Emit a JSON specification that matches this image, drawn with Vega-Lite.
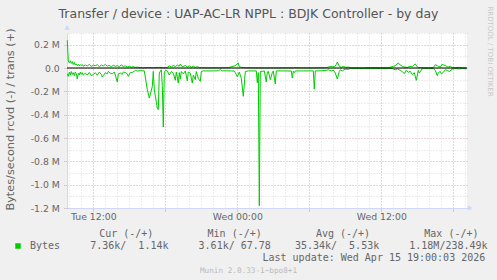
{
  "$schema": "https://vega.github.io/schema/vega-lite/v6.json",
  "width": 400,
  "height": 175,
  "autosize": {"type": "none"},
  "padding": {"left": 67, "top": 33, "right": 30, "bottom": 72},
  "background": "#F0F0F0",
  "config": {"view": {"stroke": null, "fill": "#FFFFFF"}, "font": "DejaVu Sans"},
  "title": {"text": "Transfer / device : UAP-AC-LR NPPL : BDJK Controller - by day", "font": "DejaVu Sans", "fontSize": 12.5, "fontWeight": "normal", "color": "#555555", "anchor": "middle", "frame": "group", "dx": -18.5, "baseline": "alphabetic", "offset": -25},
  "datasets": {
    "trans": [
      {"t": "2026-04-14T09:50", "v": 238490}, {"t": "2026-04-14T09:55", "v": 60000}, {"t": "2026-04-14T10:00", "v": 45000}, {"t": "2026-04-14T10:05", "v": 62000},
      {"t": "2026-04-14T10:10", "v": 40000}, {"t": "2026-04-14T10:15", "v": 55000}, {"t": "2026-04-14T10:20", "v": 30000}, {"t": "2026-04-14T10:25", "v": 48000},
      {"t": "2026-04-14T10:30", "v": 25000}, {"t": "2026-04-14T10:35", "v": 35000}, {"t": "2026-04-14T10:40", "v": 20000}, {"t": "2026-04-14T10:45", "v": 32000},
      {"t": "2026-04-14T10:50", "v": 18000}, {"t": "2026-04-14T10:55", "v": 28000}, {"t": "2026-04-14T11:00", "v": 22000}, {"t": "2026-04-14T11:05", "v": 30000},
      {"t": "2026-04-14T11:10", "v": 15000}, {"t": "2026-04-14T11:20", "v": 26000}, {"t": "2026-04-14T11:30", "v": 18000}, {"t": "2026-04-14T11:40", "v": 30000},
      {"t": "2026-04-14T11:50", "v": 14000}, {"t": "2026-04-14T12:00", "v": 24000}, {"t": "2026-04-14T12:10", "v": 20000}, {"t": "2026-04-14T12:20", "v": 28000},
      {"t": "2026-04-14T12:30", "v": 12000}, {"t": "2026-04-14T12:40", "v": 25000}, {"t": "2026-04-14T12:50", "v": 18000}, {"t": "2026-04-14T13:00", "v": 30000},
      {"t": "2026-04-14T13:10", "v": 16000}, {"t": "2026-04-14T13:20", "v": 22000}, {"t": "2026-04-14T13:30", "v": 10000}, {"t": "2026-04-14T13:40", "v": 24000},
      {"t": "2026-04-14T13:50", "v": 15000}, {"t": "2026-04-14T14:00", "v": 20000}, {"t": "2026-04-14T14:10", "v": 12000}, {"t": "2026-04-14T14:20", "v": 26000},
      {"t": "2026-04-14T14:30", "v": 14000}, {"t": "2026-04-14T14:40", "v": 18000}, {"t": "2026-04-14T14:50", "v": 8000}, {"t": "2026-04-14T15:00", "v": 15000},
      {"t": "2026-04-14T15:10", "v": 6000}, {"t": "2026-04-14T15:20", "v": 12000}, {"t": "2026-04-14T15:30", "v": 5000}, {"t": "2026-04-14T15:40", "v": 8000},
      {"t": "2026-04-14T15:50", "v": 3000}, {"t": "2026-04-14T16:10", "v": 2000}, {"t": "2026-04-14T16:35", "v": 5000}, {"t": "2026-04-14T17:00", "v": 3000},
      {"t": "2026-04-14T17:25", "v": 6000}, {"t": "2026-04-14T17:50", "v": 2000}, {"t": "2026-04-14T18:05", "v": 4000}, {"t": "2026-04-14T18:10", "v": 5000},
      {"t": "2026-04-14T18:20", "v": 18000}, {"t": "2026-04-14T18:30", "v": 8000}, {"t": "2026-04-14T18:40", "v": 22000}, {"t": "2026-04-14T18:50", "v": 12000},
      {"t": "2026-04-14T19:00", "v": 25000}, {"t": "2026-04-14T19:10", "v": 15000}, {"t": "2026-04-14T19:15", "v": 34000}, {"t": "2026-04-14T19:25", "v": 10000},
      {"t": "2026-04-14T19:40", "v": 22000}, {"t": "2026-04-14T19:50", "v": 8000}, {"t": "2026-04-14T20:00", "v": 18000}, {"t": "2026-04-14T20:10", "v": 6000},
      {"t": "2026-04-14T20:20", "v": 15000}, {"t": "2026-04-14T20:30", "v": 5000}, {"t": "2026-04-14T20:40", "v": 12000}, {"t": "2026-04-14T20:50", "v": 3000},
      {"t": "2026-04-14T21:00", "v": 2000}, {"t": "2026-04-14T21:35", "v": 2000}, {"t": "2026-04-14T22:25", "v": 2000}, {"t": "2026-04-14T23:15", "v": 3000},
      {"t": "2026-04-14T23:50", "v": 20000}, {"t": "2026-04-15T00:05", "v": 43000}, {"t": "2026-04-15T00:10", "v": 10000}, {"t": "2026-04-15T00:30", "v": 3000},
      {"t": "2026-04-15T01:20", "v": 2000}, {"t": "2026-04-15T02:10", "v": 1000}, {"t": "2026-04-15T03:00", "v": 1000}, {"t": "2026-04-15T04:40", "v": 2000},
      {"t": "2026-04-15T06:20", "v": 1000}, {"t": "2026-04-15T07:25", "v": 3000}, {"t": "2026-04-15T07:40", "v": 10000}, {"t": "2026-04-15T07:55", "v": 14000},
      {"t": "2026-04-15T08:05", "v": 8000}, {"t": "2026-04-15T08:15", "v": 30000}, {"t": "2026-04-15T08:20", "v": 51000}, {"t": "2026-04-15T08:30", "v": 15000},
      {"t": "2026-04-15T08:40", "v": 5000}, {"t": "2026-04-15T08:50", "v": 14000}, {"t": "2026-04-15T09:00", "v": 6000}, {"t": "2026-04-15T09:15", "v": 8000},
      {"t": "2026-04-15T09:30", "v": 2000}, {"t": "2026-04-15T10:30", "v": 1000}, {"t": "2026-04-15T11:05", "v": 4000}, {"t": "2026-04-15T11:55", "v": 3000},
      {"t": "2026-04-15T12:35", "v": 2000}, {"t": "2026-04-15T13:00", "v": 14000}, {"t": "2026-04-15T13:10", "v": 20000}, {"t": "2026-04-15T13:25", "v": 43000},
      {"t": "2026-04-15T13:35", "v": 25000}, {"t": "2026-04-15T13:45", "v": 14000}, {"t": "2026-04-15T13:55", "v": 8000}, {"t": "2026-04-15T14:10", "v": 5000},
      {"t": "2026-04-15T14:20", "v": 12000}, {"t": "2026-04-15T14:35", "v": 14000}, {"t": "2026-04-15T14:40", "v": 20000}, {"t": "2026-04-15T14:50", "v": 34000},
      {"t": "2026-04-15T15:00", "v": 10000}, {"t": "2026-04-15T15:05", "v": 3000}, {"t": "2026-04-15T15:15", "v": 3000}, {"t": "2026-04-15T15:30", "v": 2000},
      {"t": "2026-04-15T15:55", "v": 1000}, {"t": "2026-04-15T16:20", "v": 3000}, {"t": "2026-04-15T16:30", "v": 28000}, {"t": "2026-04-15T16:40", "v": 20000},
      {"t": "2026-04-15T16:45", "v": 14000}, {"t": "2026-04-15T16:55", "v": 8000}, {"t": "2026-04-15T17:05", "v": 34000}, {"t": "2026-04-15T17:10", "v": 25000},
      {"t": "2026-04-15T17:20", "v": 23000}, {"t": "2026-04-15T17:30", "v": 10000}, {"t": "2026-04-15T17:35", "v": 8000}, {"t": "2026-04-15T17:45", "v": 15000},
      {"t": "2026-04-15T17:55", "v": 3000}, {"t": "2026-04-15T18:10", "v": 2000}, {"t": "2026-04-15T18:30", "v": 6000}, {"t": "2026-04-15T18:45", "v": 2000},
      {"t": "2026-04-15T19:05", "v": 1140}
    ],
    "rcvd": [
      {"t": "2026-04-14T09:50", "v": -50000}, {"t": "2026-04-14T09:55", "v": -72000}, {"t": "2026-04-14T10:00", "v": -35000}, {"t": "2026-04-14T10:05", "v": -60000},
      {"t": "2026-04-14T10:10", "v": -30000}, {"t": "2026-04-14T10:15", "v": -55000}, {"t": "2026-04-14T10:20", "v": -40000}, {"t": "2026-04-14T10:25", "v": -65000},
      {"t": "2026-04-14T10:30", "v": -35000}, {"t": "2026-04-14T10:35", "v": -50000}, {"t": "2026-04-14T10:40", "v": -94000}, {"t": "2026-04-14T10:45", "v": -45000},
      {"t": "2026-04-14T10:50", "v": -60000}, {"t": "2026-04-14T10:55", "v": -35000}, {"t": "2026-04-14T11:00", "v": -55000}, {"t": "2026-04-14T11:05", "v": -40000},
      {"t": "2026-04-14T11:10", "v": -62000}, {"t": "2026-04-14T11:20", "v": -43000}, {"t": "2026-04-14T11:30", "v": -60000}, {"t": "2026-04-14T11:40", "v": -38000},
      {"t": "2026-04-14T11:50", "v": -65000}, {"t": "2026-04-14T12:00", "v": -57000}, {"t": "2026-04-14T12:10", "v": -40000}, {"t": "2026-04-14T12:20", "v": -62000},
      {"t": "2026-04-14T12:30", "v": -35000}, {"t": "2026-04-14T12:40", "v": -55000}, {"t": "2026-04-14T12:45", "v": -77000}, {"t": "2026-04-14T12:50", "v": -66000},
      {"t": "2026-04-14T13:00", "v": -40000}, {"t": "2026-04-14T13:10", "v": -50000}, {"t": "2026-04-14T13:15", "v": -29000}, {"t": "2026-04-14T13:25", "v": -45000},
      {"t": "2026-04-14T13:35", "v": -49000}, {"t": "2026-04-14T13:45", "v": -35000}, {"t": "2026-04-14T13:50", "v": -60000}, {"t": "2026-04-14T14:00", "v": -120000},
      {"t": "2026-04-14T14:05", "v": -50000}, {"t": "2026-04-14T14:15", "v": -43000}, {"t": "2026-04-14T14:25", "v": -55000}, {"t": "2026-04-14T14:30", "v": -35000},
      {"t": "2026-04-14T14:40", "v": -38000}, {"t": "2026-04-14T14:50", "v": -50000}, {"t": "2026-04-14T14:55", "v": -72000}, {"t": "2026-04-14T15:05", "v": -40000},
      {"t": "2026-04-14T15:15", "v": -38000}, {"t": "2026-04-14T15:25", "v": -28000}, {"t": "2026-04-14T15:30", "v": -20000}, {"t": "2026-04-14T15:40", "v": -26000},
      {"t": "2026-04-14T15:55", "v": -23000}, {"t": "2026-04-14T16:15", "v": -25000}, {"t": "2026-04-14T16:30", "v": -186000}, {"t": "2026-04-14T16:40", "v": -257000},
      {"t": "2026-04-14T16:55", "v": -158000}, {"t": "2026-04-14T17:00", "v": -29000}, {"t": "2026-04-14T17:05", "v": -186000}, {"t": "2026-04-14T17:20", "v": -343000},
      {"t": "2026-04-14T17:25", "v": -357000}, {"t": "2026-04-14T17:30", "v": -43000}, {"t": "2026-04-14T17:40", "v": -15000}, {"t": "2026-04-14T17:45", "v": -150000},
      {"t": "2026-04-14T17:50", "v": -506000}, {"t": "2026-04-14T17:55", "v": -30000}, {"t": "2026-04-14T18:05", "v": -20000}, {"t": "2026-04-14T18:10", "v": -25000},
      {"t": "2026-04-14T18:20", "v": -60000}, {"t": "2026-04-14T18:30", "v": -30000}, {"t": "2026-04-14T18:40", "v": -45000}, {"t": "2026-04-14T18:50", "v": -105000},
      {"t": "2026-04-14T18:55", "v": -35000}, {"t": "2026-04-14T19:05", "v": -129000}, {"t": "2026-04-14T19:10", "v": -40000}, {"t": "2026-04-14T19:15", "v": -95000},
      {"t": "2026-04-14T19:20", "v": -30000}, {"t": "2026-04-14T19:30", "v": -50000}, {"t": "2026-04-14T19:40", "v": -25000}, {"t": "2026-04-14T19:50", "v": -110000},
      {"t": "2026-04-14T19:55", "v": -35000}, {"t": "2026-04-14T20:05", "v": -45000}, {"t": "2026-04-14T20:15", "v": -129000}, {"t": "2026-04-14T20:20", "v": -60000},
      {"t": "2026-04-14T20:30", "v": -100000}, {"t": "2026-04-14T20:35", "v": -30000}, {"t": "2026-04-14T20:45", "v": -90000}, {"t": "2026-04-14T20:55", "v": -115000},
      {"t": "2026-04-14T21:00", "v": -30000}, {"t": "2026-04-14T21:10", "v": -25000}, {"t": "2026-04-14T22:00", "v": -25000}, {"t": "2026-04-14T22:25", "v": -24000},
      {"t": "2026-04-14T22:35", "v": -14000}, {"t": "2026-04-14T22:45", "v": -24000}, {"t": "2026-04-14T23:30", "v": -25000}, {"t": "2026-04-14T23:45", "v": -26000},
      {"t": "2026-04-14T23:50", "v": -40000}, {"t": "2026-04-15T00:00", "v": -75000}, {"t": "2026-04-15T00:10", "v": -35000}, {"t": "2026-04-15T00:20", "v": -90000},
      {"t": "2026-04-15T00:30", "v": -243000}, {"t": "2026-04-15T00:40", "v": -30000}, {"t": "2026-04-15T00:55", "v": -25000}, {"t": "2026-04-15T01:35", "v": -25000},
      {"t": "2026-04-15T01:40", "v": -126000}, {"t": "2026-04-15T01:45", "v": -40000}, {"t": "2026-04-15T01:50", "v": -1180000}, {"t": "2026-04-15T01:55", "v": -30000},
      {"t": "2026-04-15T02:05", "v": -29000}, {"t": "2026-04-15T02:15", "v": -25000}, {"t": "2026-04-15T02:25", "v": -120000}, {"t": "2026-04-15T02:30", "v": -35000},
      {"t": "2026-04-15T02:35", "v": -28000}, {"t": "2026-04-15T02:45", "v": -100000}, {"t": "2026-04-15T02:55", "v": -40000}, {"t": "2026-04-15T03:00", "v": -26000},
      {"t": "2026-04-15T03:10", "v": -137000}, {"t": "2026-04-15T03:15", "v": -25000}, {"t": "2026-04-15T03:50", "v": -25000}, {"t": "2026-04-15T04:30", "v": -26000},
      {"t": "2026-04-15T04:35", "v": -86000}, {"t": "2026-04-15T04:40", "v": -28000}, {"t": "2026-04-15T04:45", "v": -40000}, {"t": "2026-04-15T04:50", "v": -25000},
      {"t": "2026-04-15T05:30", "v": -25000}, {"t": "2026-04-15T06:20", "v": -25000}, {"t": "2026-04-15T06:25", "v": -180000}, {"t": "2026-04-15T06:30", "v": -25000},
      {"t": "2026-04-15T07:00", "v": -24000}, {"t": "2026-04-15T07:25", "v": -20000}, {"t": "2026-04-15T07:35", "v": -15000}, {"t": "2026-04-15T07:50", "v": -25000},
      {"t": "2026-04-15T08:00", "v": -18000}, {"t": "2026-04-15T08:10", "v": -43000}, {"t": "2026-04-15T08:20", "v": -94000}, {"t": "2026-04-15T08:30", "v": -30000},
      {"t": "2026-04-15T08:35", "v": -15000}, {"t": "2026-04-15T08:45", "v": -25000}, {"t": "2026-04-15T09:00", "v": -9000}, {"t": "2026-04-15T09:15", "v": -12000},
      {"t": "2026-04-15T09:25", "v": -4000}, {"t": "2026-04-15T10:05", "v": -4000}, {"t": "2026-04-15T11:05", "v": -6000}, {"t": "2026-04-15T11:55", "v": -5000},
      {"t": "2026-04-15T12:35", "v": -4000}, {"t": "2026-04-15T12:55", "v": -4000}, {"t": "2026-04-15T13:00", "v": -10000}, {"t": "2026-04-15T13:10", "v": -15000},
      {"t": "2026-04-15T13:20", "v": -8000}, {"t": "2026-04-15T13:35", "v": -21000}, {"t": "2026-04-15T13:45", "v": -30000}, {"t": "2026-04-15T13:55", "v": -49000},
      {"t": "2026-04-15T14:05", "v": -20000}, {"t": "2026-04-15T14:15", "v": -37000}, {"t": "2026-04-15T14:25", "v": -28000}, {"t": "2026-04-15T14:35", "v": -57000},
      {"t": "2026-04-15T14:45", "v": -40000}, {"t": "2026-04-15T14:55", "v": -106000}, {"t": "2026-04-15T15:05", "v": -20000}, {"t": "2026-04-15T15:10", "v": -43000},
      {"t": "2026-04-15T15:25", "v": -6000}, {"t": "2026-04-15T15:35", "v": -4000}, {"t": "2026-04-15T16:00", "v": -4000}, {"t": "2026-04-15T16:20", "v": -4000},
      {"t": "2026-04-15T16:30", "v": -21000}, {"t": "2026-04-15T16:40", "v": -66000}, {"t": "2026-04-15T16:45", "v": -40000}, {"t": "2026-04-15T16:55", "v": -29000},
      {"t": "2026-04-15T17:00", "v": -50000}, {"t": "2026-04-15T17:10", "v": -37000}, {"t": "2026-04-15T17:20", "v": -15000}, {"t": "2026-04-15T17:30", "v": -21000},
      {"t": "2026-04-15T17:40", "v": -30000}, {"t": "2026-04-15T17:55", "v": -9000}, {"t": "2026-04-15T18:10", "v": -4000}, {"t": "2026-04-15T18:30", "v": -8000},
      {"t": "2026-04-15T18:45", "v": -4000}, {"t": "2026-04-15T19:05", "v": -7360}
    ]
  },
  "resolve": {"axis": {"x": "independent", "y": "independent"}},
  "layer": [
    {
      "data": {"name": "trans"},
      "mark": {"type": "line", "color": "#00CC00", "strokeWidth": 1},
      "encoding": {
        "x": {"field": "t", "type": "temporal",
          "scale": {"type": "time", "nice": false, "domain": [{"year": 2026, "month": 4, "date": 14, "hours": 9, "minutes": 48, "seconds": 30}, {"year": 2026, "month": 4, "date": 15, "hours": 19, "minutes": 8, "seconds": 30}]},
          "axis": {"orient": "bottom",
            "values": [
              {"year": 2026, "month": 4, "date": 14, "hours": 10}, {"year": 2026, "month": 4, "date": 14, "hours": 11}, {"year": 2026, "month": 4, "date": 14, "hours": 13},
              {"year": 2026, "month": 4, "date": 14, "hours": 14}, {"year": 2026, "month": 4, "date": 14, "hours": 15}, {"year": 2026, "month": 4, "date": 14, "hours": 16},
              {"year": 2026, "month": 4, "date": 14, "hours": 17}, {"year": 2026, "month": 4, "date": 14, "hours": 19}, {"year": 2026, "month": 4, "date": 14, "hours": 20},
              {"year": 2026, "month": 4, "date": 14, "hours": 21}, {"year": 2026, "month": 4, "date": 14, "hours": 22}, {"year": 2026, "month": 4, "date": 14, "hours": 23},
              {"year": 2026, "month": 4, "date": 15, "hours": 1}, {"year": 2026, "month": 4, "date": 15, "hours": 2}, {"year": 2026, "month": 4, "date": 15, "hours": 3},
              {"year": 2026, "month": 4, "date": 15, "hours": 4}, {"year": 2026, "month": 4, "date": 15, "hours": 5}, {"year": 2026, "month": 4, "date": 15, "hours": 7},
              {"year": 2026, "month": 4, "date": 15, "hours": 8}, {"year": 2026, "month": 4, "date": 15, "hours": 9}, {"year": 2026, "month": 4, "date": 15, "hours": 10},
              {"year": 2026, "month": 4, "date": 15, "hours": 11}, {"year": 2026, "month": 4, "date": 15, "hours": 13}, {"year": 2026, "month": 4, "date": 15, "hours": 14},
              {"year": 2026, "month": 4, "date": 15, "hours": 15}, {"year": 2026, "month": 4, "date": 15, "hours": 16}, {"year": 2026, "month": 4, "date": 15, "hours": 17},
              {"year": 2026, "month": 4, "date": 15, "hours": 19}
            ],
            "grid": true, "gridColor": "#8C8C8C", "gridOpacity": 0.31, "gridDash": [1, 2],
            "labels": false, "ticks": false, "domain": false,
            "title": "Munin 2.0.33-1~bpo8+1", "titleFont": "DejaVu Sans Mono", "titleFontSize": 7.7, "titleFontWeight": "normal", "titleColor": "#BBBBBB",
            "titleX": 181, "titleY": 64.2, "titleAlign": "center", "titleBaseline": "alphabetic"}
        },
        "y": {"field": "v", "type": "quantitative",
          "scale": {"domain": [-1200000, 300000], "nice": false, "zero": false},
          "axis": {"orient": "left", "values": [300000, 100000, -100000, -300000, -500000, -700000, -900000, -1100000],
            "grid": true, "gridColor": "#8C8C8C", "gridOpacity": 0.31, "gridDash": [1, 2],
            "labels": false, "ticks": false, "domain": false,
            "title": "Cur (-/+)\u00a0\u00a0\u00a0\u00a0\u00a0\u00a0\u00a0\u00a0\u00a0Min (-/+)\u00a0\u00a0\u00a0\u00a0\u00a0\u00a0\u00a0\u00a0\u00a0Avg (-/+)\u00a0\u00a0\u00a0\u00a0\u00a0\u00a0\u00a0\u00a0\u00a0Max (-/+)",
            "titleFont": "DejaVu Sans Mono", "titleFontSize": 10, "titleFontWeight": "normal", "titleColor": "#666666",
            "titleAngle": 0, "titleX": 31.7, "titleY": 203.2, "titleAlign": "left", "titleBaseline": "alphabetic"}
        }
      }
    },
    {
      "data": {"name": "rcvd"},
      "mark": {"type": "line", "strokeWidth": 1},
      "encoding": {
        "x": {"field": "t", "type": "temporal",
          "scale": {"type": "time", "nice": false, "domain": [{"year": 2026, "month": 4, "date": 14, "hours": 9, "minutes": 48, "seconds": 30}, {"year": 2026, "month": 4, "date": 15, "hours": 19, "minutes": 8, "seconds": 30}]},
          "axis": {"orient": "bottom",
            "values": [
              {"year": 2026, "month": 4, "date": 14, "hours": 12}, {"year": 2026, "month": 4, "date": 14, "hours": 18},
              {"year": 2026, "month": 4, "date": 15, "hours": 0}, {"year": 2026, "month": 4, "date": 15, "hours": 6},
              {"year": 2026, "month": 4, "date": 15, "hours": 12}, {"year": 2026, "month": 4, "date": 15, "hours": 18}
            ],
            "grid": true, "gridColor": "#821E1E", "gridOpacity": 0.39, "gridDash": [1, 2],
            "ticks": true, "tickColor": "#821E1E", "tickOpacity": 0.39, "tickSize": 3, "tickDash": [1, 1],
            "domain": true, "domainColor": "#CFD6F8", "domainWidth": 1,
            "labelExpr": "hours(datum.value) % 12 == 0 ? timeFormat(datum.value, '%a %H:%M') : ''",
            "labelFont": "DejaVu Sans", "labelFontSize": 9.3, "labelColor": "#666666", "labelPadding": 1,
            "labelOverlap": false, "labelFlush": false, "labelBound": false,
            "title": "Last update: Wed Apr 15 19:00:03 2026",
            "titleFont": "DejaVu Sans Mono", "titleFontSize": 10, "titleFontWeight": "normal", "titleColor": "#666666",
            "titleX": 195, "titleY": 52.2, "titleAlign": "left", "titleBaseline": "alphabetic"}
        },
        "y": {"field": "v", "type": "quantitative",
          "scale": {"domain": [-1200000, 300000], "nice": false, "zero": false},
          "axis": {"orient": "left", "values": [200000, 0, -200000, -400000, -600000, -800000, -1000000, -1200000],
            "grid": true, "gridColor": "#821E1E", "gridOpacity": 0.39, "gridDash": [1, 2],
            "ticks": true, "tickColor": "#821E1E", "tickOpacity": 0.39, "tickSize": 3, "tickDash": [1, 1],
            "domain": true, "domainColor": "#CFD6F8", "domainWidth": 1,
            "labelExpr": "datum.value == 0 ? '0.0' : (datum.value < 0 ? '-' : '') + format(abs(datum.value) / 1000000, '.1f') + ' M'",
            "labelFont": "DejaVu Sans", "labelFontSize": 9.3, "labelColor": "#666666", "labelPadding": 4.7,
            "title": "Bytes/second rcvd (-) / trans (+)", "titleFont": "DejaVu Sans", "titleFontSize": 11.3, "titleFontWeight": "normal", "titleColor": "#666666",
            "titleAngle": -90, "titleX": -57, "titleY": 86, "titleAlign": "center", "titleBaseline": "middle"}
        },
        "color": {"datum": "Bytes", "type": "nominal", "scale": {"range": ["#00CC00"]},
          "legend": {"orient": "none", "legendX": -54, "legendY": 208, "title": null, "padding": 0,
            "symbolType": "square", "symbolSize": 30, "symbolFillColor": "#00CC00", "symbolStrokeColor": "#00CC00", "symbolStrokeWidth": 0,
            "labelExpr": "'Bytes\u00a0\u00a0\u00a0\u00a0\u00a07.36k/\u00a0\u00a01.14k\u00a0\u00a0\u00a0\u00a0\u00a03.61k/\u00a067.78\u00a0\u00a0\u00a0\u00a035.34k/\u00a0\u00a05.53k\u00a0\u00a0\u00a0\u00a0\u00a01.18M/238.49k'",
            "labelFont": "DejaVu Sans Mono", "labelFontSize": 10, "labelColor": "#666666", "labelLimit": 1000, "labelOffset": 7}
        }
      }
    },
    {
      "data": {"values": [{}]},
      "mark": {"type": "rule", "color": "#000000", "strokeWidth": 1},
      "encoding": {
        "y": {"datum": 0, "type": "quantitative",
          "scale": {"domain": [-1200000, 300000], "nice": false, "zero": false},
          "axis": {"orient": "right", "labels": false, "ticks": false, "domain": false, "grid": false,
            "title": "RRDTOOL / TOBI OETIKER", "titleAngle": 90, "titleFont": "DejaVu Sans", "titleFontSize": 7, "titleFontWeight": "normal", "titleColor": "#C8C8C8",
            "titleX": 22, "titleY": 18, "titleAlign": "center", "titleBaseline": "middle"}
        }
      }
    },
    {
      "data": {"values": [{}]},
      "mark": {"type": "point", "shape": "triangle-right", "filled": true, "color": "#CFD6F8", "opacity": 1, "size": 30},
      "encoding": {
        "x": {"datum": {"year": 2026, "month": 4, "date": 15, "hours": 19, "minutes": 25}, "type": "temporal", "axis": null,
          "scale": {"type": "time", "nice": false, "domain": [{"year": 2026, "month": 4, "date": 14, "hours": 9, "minutes": 48, "seconds": 30}, {"year": 2026, "month": 4, "date": 15, "hours": 19, "minutes": 8, "seconds": 30}]}},
        "y": {"datum": -1200000, "type": "quantitative", "axis": null, "scale": {"domain": [-1200000, 300000], "nice": false, "zero": false}}
      }
    },
    {
      "data": {"values": [{}]},
      "mark": {"type": "point", "shape": "triangle-up", "filled": true, "color": "#CFD6F8", "opacity": 1, "size": 30},
      "encoding": {
        "x": {"datum": {"year": 2026, "month": 4, "date": 14, "hours": 9, "minutes": 48, "seconds": 30}, "type": "temporal", "axis": null,
          "scale": {"type": "time", "nice": false, "domain": [{"year": 2026, "month": 4, "date": 14, "hours": 9, "minutes": 48, "seconds": 30}, {"year": 2026, "month": 4, "date": 15, "hours": 19, "minutes": 8, "seconds": 30}]}},
        "y": {"datum": 348000, "type": "quantitative", "axis": null, "scale": {"domain": [-1200000, 300000], "nice": false, "zero": false}}
      }
    }
  ]
}
